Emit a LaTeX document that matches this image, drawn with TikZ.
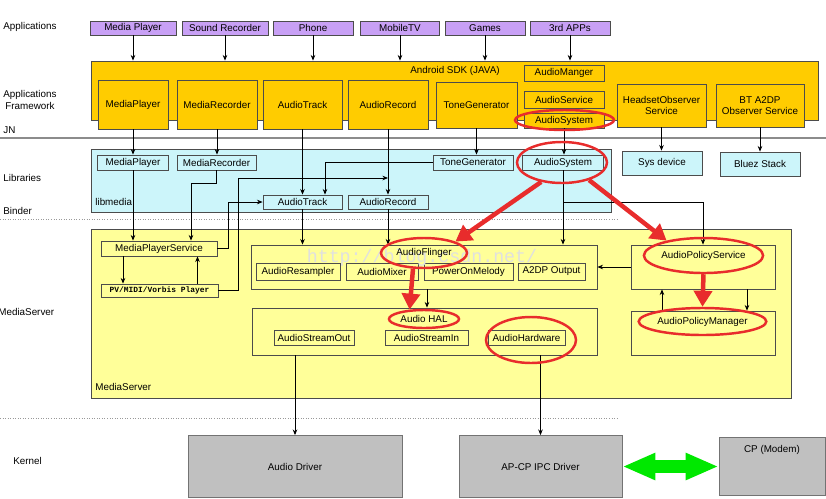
\documentclass[tikz,border=0pt]{standalone}
\usepackage{fontspec}
\setmainfont{Liberation Sans}
\newfontfamily\pvfont{Liberation Mono}
\usetikzlibrary{arrows.meta,shapes.geometric}

\definecolor{appviolet}{RGB}{200,160,245}
\definecolor{sdkorange}{RGB}{255,204,0}
\definecolor{libcyan}{RGB}{204,245,250}
\definecolor{srvyellow}{RGB}{255,255,153}
\definecolor{krngray}{RGB}{192,192,192}
\definecolor{ringred}{RGB}{232,44,44}
\definecolor{linkgreen}{RGB}{0,232,0}

\begin{document}
\begin{tikzpicture}[
    x=0.2mm, y=-0.2mm,
    font=\fontsize{5.6}{6.6}\selectfont,
    >={Stealth[length=3.2pt,width=2.6pt]},
    line width=0.45pt,
    appbox/.style={
        draw=black!70,
        fill=appviolet,
        minimum width=1.6cm,
        minimum height=0.28cm,
        inner sep=0pt
    },
    sdkbox/.style={draw=black!70, fill=sdkorange, inner sep=0pt, align=center},
    libbox/.style={draw=black!70, fill=libcyan, inner sep=0pt},
    srvbox/.style={draw=black!70, fill=srvyellow, inner sep=0pt},
    krnbox/.style={draw=black!55, fill=krngray, inner sep=0pt},
    layer/.style={anchor=west, align=center, inner sep=0pt},
    redring/.style={ellipse, draw=ringred, line width=1.4pt, inner sep=0pt},
    redarrow/.style={
        -{Triangle[length=0.32cm,width=0.36cm]},
        draw=ringred,
        line width=0.09cm
    }
]
    \useasboundingbox (0,0) rectangle (826,498);

    \node[layer] (lApps) at (3,27) {Applications};
    \node[layer] (lFw) at (3,100) {Applications\\Framework};
    \node[layer] (lJN) at (3,130) {JN};
    \node[layer] (lLib) at (3,178) {Libraries};
    \node[layer] (lBinder) at (3,211) {Binder};
    \node[layer] (lSrv) at (-2,312) {MediaServer};
    \node[layer] (lKrn) at (13,461) {Kernel};

    \draw[black!45, line width=0.6pt] (0,138) -- (826,138);
    \draw[black!40, densely dotted] (0,219) -- (618,219);
    \draw[black!40, densely dotted] (0,418) -- (618,418);

    \node[appbox, minimum width=1.72cm] (mpApp) at (133,28) {Media Player};
    \node[appbox, minimum width=1.72cm] (srApp) at (225,28) {Sound Recorder};
    \node[appbox] (phApp) at (313,28) {Phone};
    \node[appbox, minimum width=1.58cm] (tvApp) at (400,28) {MobileTV};
    \node[appbox] (gmApp) at (485,28) {Games};
    \node[appbox] (rdApp) at (570,28) {3rd APPs};

    \node[sdkbox, minimum width=14.54cm, minimum height=1.18cm] (sdk) at (454.5,90.5) {};
    \node (sdkLbl) at (455,71) {Android SDK (JAVA)};
    \foreach \a in {mpApp,srApp,phApp,tvApp,gmApp,rdApp}
        \draw[->] (\a.south) -- (\a.south |- sdk.north);

    \node[sdkbox, minimum width=1.4cm, minimum height=0.98cm] (fwMP) at (133,104.5) {MediaPlayer};
    \node[sdkbox, minimum width=1.6cm, minimum height=0.98cm] (fwMR) at (217,104.5) {MediaRecorder};
    \node[sdkbox, minimum width=1.58cm, minimum height=0.98cm] (fwAT) at (302.5,104.5) {AudioTrack};
    \node[sdkbox, minimum width=1.6cm, minimum height=0.98cm] (fwAR) at (388,104.5) {AudioRecord};
    \node[sdkbox, minimum width=1.62cm, minimum height=0.92cm] (fwTG) at (476.5,105) {ToneGenerator};
    \node[sdkbox, minimum width=1.6cm, minimum height=0.32cm] (fwAM) at (564,73) {AudioManger};
    \node[sdkbox, minimum width=1.6cm, minimum height=0.34cm] (fwAS) at (564,99.5) {AudioService};
    \node[sdkbox, minimum width=1.6cm, minimum height=0.3cm] (fwSys) at (564,120.5) {AudioSystem};
    \node[sdkbox, minimum width=1.78cm, minimum height=0.86cm] (fwHS) at (661.5,105.5) {HeadsetObserver\\Service};
    \node[sdkbox, minimum width=1.76cm, minimum height=0.86cm] (fwBT) at (760,105.5) {BT A2DP\\Observer Service};

    \node[libbox, minimum width=10.4cm, minimum height=1.26cm] (libmedia) at (351,180.5) {};
    \node[layer] (libLbl) at (95,202) {libmedia};
    \node[libbox, minimum width=1.42cm, minimum height=0.3cm] (libMP) at (133,162.5) {MediaPlayer};
    \node[libbox, minimum width=1.58cm, minimum height=0.3cm] (libMR) at (216.5,162.5) {MediaRecorder};
    \node[libbox, minimum width=1.6cm, minimum height=0.3cm] (libTG) at (473,162.5) {ToneGenerator};
    \node[libbox, minimum width=1.62cm, minimum height=0.3cm] (libSys) at (563,162.5) {AudioSystem};
    \node[libbox, minimum width=1.58cm, minimum height=0.28cm] (libAT) at (302.5,202) {AudioTrack};
    \node[libbox, minimum width=1.6cm, minimum height=0.28cm] (libAR) at (388,202) {AudioRecord};
    \node[libbox, minimum width=1.6cm, minimum height=0.48cm] (sysDev) at (662,163) {Sys device};
    \node[libbox, minimum width=1.6cm, minimum height=0.48cm] (bluez) at (760,164) {Bluez Stack};

    \draw[->] (fwMP.south) -- (libMP.north);
    \draw[->] (fwMR.south) -- (fwMR.south |- libMR.north);
    \draw[->] (fwAT.south) -- (libAT.north);
    \draw[->] (fwAR.south) -- (libAR.north);
    \draw[->] (fwTG.south) -- (fwTG.south |- libTG.north);
    \draw[->] (fwSys.south) -- (fwSys.south |- libSys.north);
    \draw[->] (fwHS.south) -- (fwHS.south |- sysDev.north);
    \draw[->] (fwBT.south) -- (bluez.north);

    \node[srvbox, minimum width=14cm, minimum height=3.38cm] (server) at (441,313.5) {};
    \node[layer] (srvLbl) at (95,387) {MediaServer};
    \node[srvbox, minimum width=2.32cm, minimum height=0.3cm] (mps) at (159,248.5) {MediaPlayerService};
    \node[srvbox, minimum width=2.34cm, minimum height=0.26cm, font=\fontsize{4.5}{5}\pvfont\bfseries] (pvp) at (159.5,290.5) {PV/MIDI/Vorbis Player};

    \node[srvbox, minimum width=6.92cm, minimum height=0.88cm] (flinger) at (424,267) {};
    \node[srvbox, minimum width=1.68cm, minimum height=0.34cm] (resampler) at (298,271.5) {AudioResampler};
    \node[srvbox, minimum width=1.44cm, minimum height=0.34cm] (mixer) at (382,271.5) {AudioMixer};
    \node[srvbox, minimum width=1.78cm, minimum height=0.34cm] (melody) at (468.5,271.5) {PowerOnMelody};
    \node[srvbox, minimum width=1.34cm, minimum height=0.34cm] (a2dp) at (551.5,271.5) {A2DP Output};

    \node[srvbox, minimum width=6.9cm, minimum height=0.94cm] (hal) at (424.5,331.5) {};
    \node[srvbox, minimum width=1.6cm, minimum height=0.3cm] (streamOut) at (314,337.5) {AudioStreamOut};
    \node[srvbox, minimum width=1.66cm, minimum height=0.3cm] (streamIn) at (426.5,337.5) {AudioStreamIn};
    \node[srvbox, minimum width=1.54cm, minimum height=0.3cm] (hardware) at (526.5,337.5) {AudioHardware};

    \node[srvbox, minimum width=2.88cm, minimum height=0.88cm] (aps) at (703,267) {};
    \node[srvbox, minimum width=2.88cm, minimum height=0.88cm] (apm) at (703,333) {};

    \node[krnbox, minimum width=4.28cm, minimum height=1.24cm] (drv) at (295,466.5) {Audio Driver};
    \node[krnbox, minimum width=3.26cm, minimum height=1.24cm] (ipc) at (540.5,466.5) {AP-CP IPC Driver};
    \node[krnbox, minimum width=2.12cm, minimum height=1.16cm] (cp) at (772,466.5) {};
    \node[anchor=north] (cpLbl) at ([yshift=-0.04cm]cp.north) {CP (Modem)};

    \coordinate (mrbend) at (191,183);
    \coordinate (tgbend) at (325,162.5);
    \coordinate (mpsbend) at (228,202);
    \coordinate (pvpbend) at (238,178);
    \coordinate (sysbend) at (563,202);

    \draw[->] (libMP.south) -- (libMP.south |- mps.north);
    \draw[->] (libMR.south) |- (mrbend) -- (mrbend |- mps.north);
    \draw[->] (libTG.west) -- (tgbend) -- (tgbend |- libAT.north);
    \draw[->] (mps.east) -| (mpsbend) -- (libAT.west);
    \draw[->] (pvp.east) -| (pvpbend) -- (pvpbend -| libAR.north);
    \draw[->] ([xshift=-0.72cm]mps.south) -- ([xshift=-0.72cm]mps.south |- pvp.north);
    \draw[->] ([xshift=0.76cm]pvp.north) -- ([xshift=0.76cm]pvp.north |- mps.south);
    \draw[->] (libAT.south) -- (libAT.south |- flinger.north);
    \draw[->] (libAR.south) -- (libAR.south |- flinger.north);
    \draw[->] (libSys.south) -- (libSys.south |- flinger.north);
    \draw[->] (sysbend) -| (aps.north);
    \draw[->] ([xshift=0.06cm]flinger.south) -- ([xshift=0.06cm]flinger.south |- hal.north);
    \draw[->] (aps.west) -- (flinger.east);
    \draw[->] ([xshift=-0.82cm]apm.north) -- ([xshift=-0.82cm]aps.south);
    \draw[->] ([xshift=0.88cm]aps.south) -- ([xshift=0.88cm]apm.north);
    \draw[->] (hal.south -| drv.north) -- (drv.north);
    \draw[->] (hal.south -| ipc.north) -- (ipc.north);

    \draw[{Triangle[length=0.66cm,width=0.5cm]}-{Triangle[length=0.66cm,width=0.5cm]},
        draw=linkgreen, line width=0.26cm] (ipc.east) -- (cp.west);

    \node[text=black!12, font=\fontsize{10.4}{12}\pvfont] (watermark) at (422,258) {http://blog.csdn.net/};

    \node[redring, minimum width=1.98cm, minimum height=0.4cm] (fwSysRing) at (564.5,120) {};
    \node[redring, minimum width=1.8cm, minimum height=0.82cm] (libSysRing) at (562,162.5) {};
    \node[redring, minimum width=1.72cm, minimum height=0.6cm] (flingerRing) at (424,253) {AudioFlinger};
    \node[redring, minimum width=1.4cm, minimum height=0.36cm] (halRing) at (424,319) {Audio HAL};
    \node[redring, minimum width=1.8cm, minimum height=0.92cm] (hwRing) at (531,340) {};
    \node[redring, minimum width=2.06cm, minimum height=0.7cm] (apsRing) at (703.5,255.5) {AudioPolicyService};
    \node[redring, minimum width=2.38cm, minimum height=0.54cm] (apmRing) at (702.5,321.5) {AudioPolicyManager};

    \draw[redarrow] (libSysRing.-137) -- (flingerRing.20);
    \draw[redarrow] (libSysRing.-33) -- (apsRing.158);
    \draw[redarrow] (flingerRing.-125) -- (halRing.147);
    \draw[redarrow] (apsRing.south) -- (apmRing.north);
\end{tikzpicture}
\end{document}
